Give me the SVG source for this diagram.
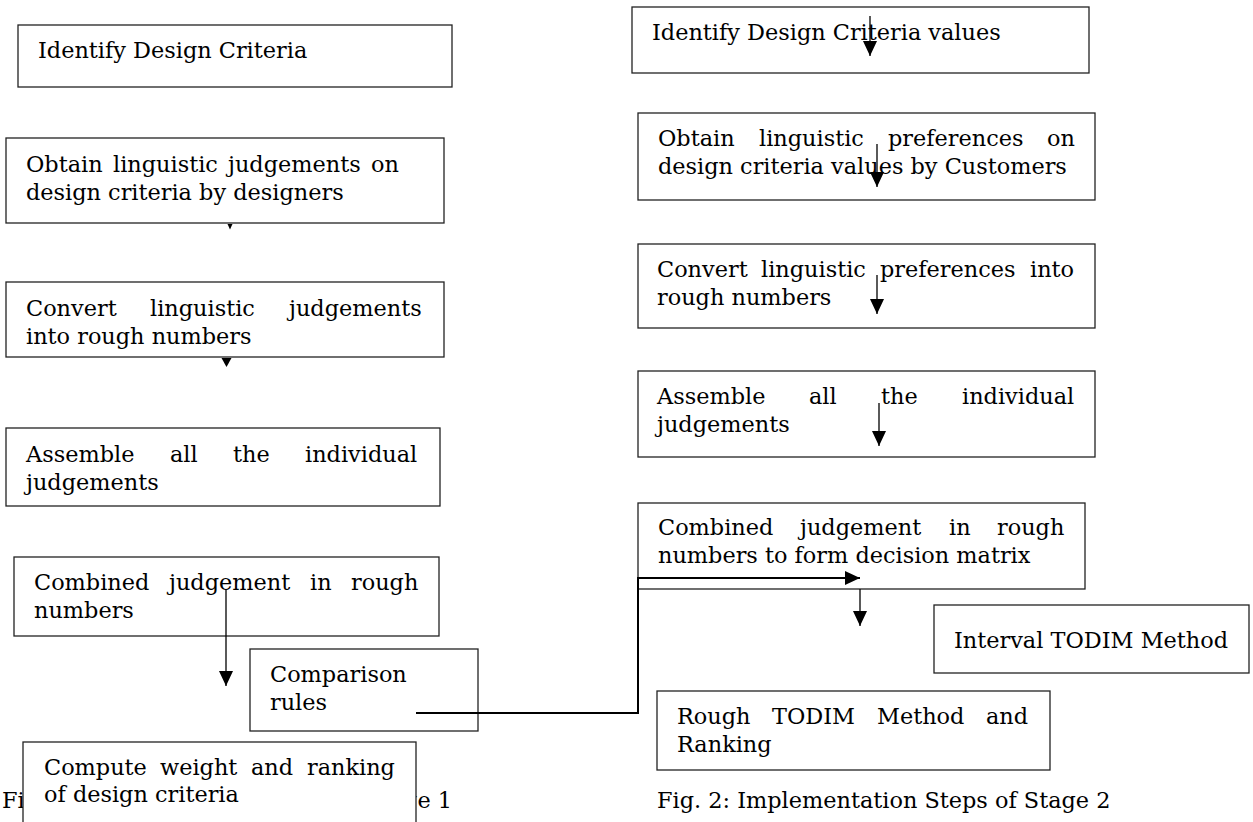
<svg xmlns="http://www.w3.org/2000/svg" width="1253" height="822" viewBox="0 0 1253 822">
<style>
  .box { fill: #ffffff; stroke: #222222; stroke-width: 1.3; }
  .t { font-family: "DejaVu Serif", "Liberation Serif", serif; font-size: 22.4px; fill: #000000; }
  .ln { fill: none; stroke: #000000; stroke-width: 1.3; }
  .ln2 { fill: none; stroke: #000000; stroke-width: 2; }
  .hd { fill: #000000; stroke: none; }
</style>
<defs>
  <marker id="ah" markerUnits="userSpaceOnUse" markerWidth="16" markerHeight="16" viewBox="0 0 16 16" refX="15" refY="8" orient="auto">
    <path d="M0,1 L15,8 L0,15 Z" fill="#000000"/>
  </marker>
</defs>
<rect width="1253" height="822" fill="#ffffff"/>

<g id="captions">
  <text class="t" x="2" y="808">Fi</text>
  <text class="t" x="452" y="808" text-anchor="end">ge 1</text>
  <text class="t" x="657" y="808">Fig. 2: Implementation Steps of Stage 2</text>
</g>

<g id="n-identify">
  <rect class="box" x="18" y="25" width="434" height="62"/>
  <text class="t" x="38" y="58">Identify Design Criteria</text>
</g>
<g id="n-obtain">
  <rect class="box" x="6" y="138" width="438" height="85"/>
  <text class="t" y="172"><tspan x="26">Obtain</tspan><tspan x="113">linguistic</tspan><tspan x="228">judgements</tspan><tspan x="371">on</tspan></text>
  <text class="t" x="26" y="200">design criteria by designers</text>
</g>
<g id="n-convert">
  <rect class="box" x="6" y="282" width="438" height="75"/>
  <text class="t" y="316"><tspan x="26">Convert</tspan><tspan x="150">linguistic</tspan><tspan x="289">judgements</tspan></text>
  <text class="t" x="26" y="344">into rough numbers</text>
</g>
<g id="n-assemble">
  <rect class="box" x="6" y="428" width="434" height="78"/>
  <text class="t" y="462"><tspan x="26">Assemble</tspan><tspan x="170">all</tspan><tspan x="233">the</tspan><tspan x="305">individual</tspan></text>
  <text class="t" x="26" y="490">judgements</text>
</g>
<g id="n-combined">
  <rect class="box" x="14" y="557" width="425" height="79"/>
  <text class="t" y="590"><tspan x="34">Combined</tspan><tspan x="169">judgement</tspan><tspan x="310">in</tspan><tspan x="351">rough</tspan></text>
  <text class="t" x="34" y="618">numbers</text>
</g>
<g id="n-comparison">
  <rect class="box" x="250" y="649" width="228" height="82"/>
  <text class="t" x="270" y="682">Comparison</text>
  <text class="t" x="270" y="710">rules</text>
</g>
<g id="n-compute">
  <rect class="box" x="23" y="742" width="393" height="100"/>
  <text class="t" y="775"><tspan x="44">Compute</tspan><tspan x="160">weight</tspan><tspan x="251">and</tspan><tspan x="307">ranking</tspan></text>
  <text class="t" x="44" y="802">of design criteria</text>
</g>

<g id="n-identify-values">
  <rect class="box" x="632" y="7" width="457" height="66"/>
  <text class="t" x="652" y="40">Identify Design Criteria values</text>
</g>
<g id="n-obtain-pref">
  <rect class="box" x="638" y="113" width="457" height="87"/>
  <text class="t" y="146"><tspan x="658">Obtain</tspan><tspan x="759">linguistic</tspan><tspan x="888">preferences</tspan><tspan x="1047">on</tspan></text>
  <text class="t" x="658" y="174">design criteria values by Customers</text>
</g>
<g id="n-convert-pref">
  <rect class="box" x="638" y="244" width="457" height="84"/>
  <text class="t" y="277"><tspan x="657">Convert</tspan><tspan x="761">linguistic</tspan><tspan x="880">preferences</tspan><tspan x="1030">into</tspan></text>
  <text class="t" x="657" y="305">rough numbers</text>
</g>
<g id="n-assemble-r">
  <rect class="box" x="638" y="371" width="457" height="86"/>
  <text class="t" y="404"><tspan x="657">Assemble</tspan><tspan x="809">all</tspan><tspan x="881">the</tspan><tspan x="962">individual</tspan></text>
  <text class="t" x="657" y="432">judgements</text>
</g>
<g id="n-combined-r">
  <rect class="box" x="638" y="503" width="447" height="86"/>
  <text class="t" y="535"><tspan x="658">Combined</tspan><tspan x="800">judgement</tspan><tspan x="949">in</tspan><tspan x="997">rough</tspan></text>
  <text class="t" x="658" y="563">numbers to form decision matrix</text>
</g>
<g id="n-interval">
  <rect class="box" x="934" y="605" width="315" height="68"/>
  <text class="t" x="954" y="648">Interval TODIM Method</text>
</g>
<g id="n-rough">
  <rect class="box" x="657" y="691" width="393" height="79"/>
  <text class="t" y="724"><tspan x="677">Rough</tspan><tspan x="772">TODIM</tspan><tspan x="877">Method</tspan><tspan x="986">and</tspan></text>
  <text class="t" x="677" y="752">Ranking</text>
</g>

<g id="connectors">
  <polygon class="hd" points="227.5,224 232.5,224 230,229.5"/>
  <polygon class="hd" points="221.5,358 231.5,358 226.5,367"/>
  <line class="ln" x1="226" y1="590" x2="226" y2="686" marker-end="url(#ah)"/>
  <polyline class="ln2" points="416,713 638,713 638,578 860,578" marker-end="url(#ah)"/>
  <line class="ln" x1="870" y1="16" x2="870" y2="56" marker-end="url(#ah)"/>
  <line class="ln" x1="877" y1="144" x2="877" y2="187" marker-end="url(#ah)"/>
  <line class="ln" x1="877" y1="275" x2="877" y2="314" marker-end="url(#ah)"/>
  <line class="ln" x1="879" y1="403" x2="879" y2="446" marker-end="url(#ah)"/>
  <line class="ln" x1="860" y1="589" x2="860" y2="626" marker-end="url(#ah)"/>
</g>
</svg>
